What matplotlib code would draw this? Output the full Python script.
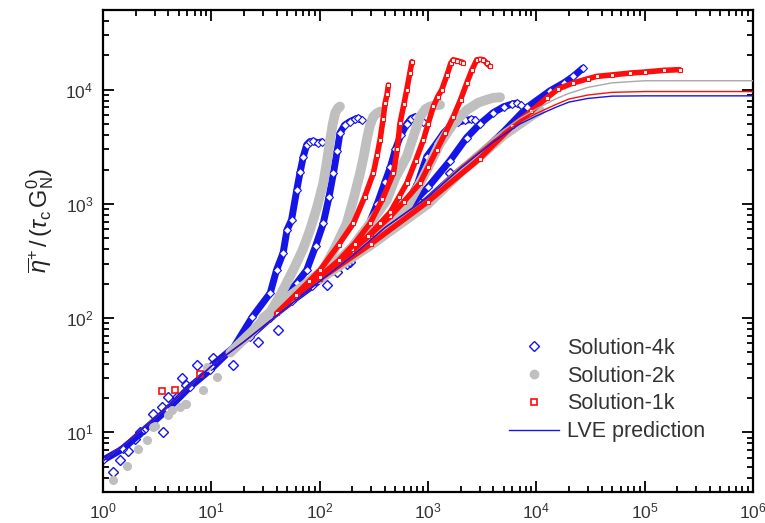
import numpy as np
import matplotlib
matplotlib.use("Agg")
import matplotlib.pyplot as plt
from matplotlib.lines import Line2D

plt.rcParams['font.family'] = ['Liberation Sans', 'DejaVu Sans']
plt.rcParams['mathtext.fontset'] = 'custom'
plt.rcParams['mathtext.rm'] = 'Liberation Sans'
plt.rcParams['mathtext.it'] = 'Liberation Sans:italic'

# ---- data (t / tau_c , eta+ / (tau_c G_N^0)) ----
# LVE predictions
t_lve = [1, 2, 4, 10, 20, 40, 100, 200, 400, 1000, 2000, 4000, 7000, 10000, 15000,
         20000, 30000, 50000, 100000, 1000000]
eta_lve_4k = [5.6, 9.5, 17, 38, 62, 105, 210, 350, 620, 1150, 2050, 3500, 5000, 5900,
              7000, 7800, 8400, 8800, 8850, 8850]
eta_lve_1k = [5.6, 9.5, 17, 38, 62, 105, 210, 350, 620, 1150, 2100, 3600, 5200, 6200,
              7400, 8300, 9000, 9500, 9650, 9650]
eta_lve_2k = [5.6, 9.5, 17, 38, 62, 105, 210, 350, 620, 1150, 2150, 3800, 5600, 6800,
              8300, 9300, 10500, 11500, 12000, 12000]

# Solution-4k (blue diamonds), one array pair per rate
t_b1 = [10, 16, 24, 35, 40, 46, 50, 55, 61.5, 66, 70.7, 76, 81.5, 87, 97, 104.5]
eta_b1 = [38, 55, 103, 166, 264, 372, 592, 724, 1327, 1900, 2600, 3300, 3520, 3550, 3410, 3500]
t_b2 = [20, 35, 50, 62, 76, 92, 108, 122, 134, 145, 154, 170, 191, 210, 228, 245]
eta_b2 = [65, 110, 160, 205, 264, 430, 677, 1150, 1860, 2900, 4170, 4900, 5270, 5500, 5650, 5400]
t_b3 = [60, 100, 160, 220, 280, 340, 400, 450, 500, 560, 637, 700, 760, 830, 901]
eta_b3 = [160, 230, 320, 440, 640, 1000, 1550, 2100, 3000, 4000, 5000, 5600, 5800, 5600, 5200]
t_b4 = [100, 300, 600, 800, 975, 1200, 1400, 1600, 1900, 2200, 2500, 2700]
eta_b4 = [220, 470, 900, 1500, 2600, 3400, 4200, 4770, 5200, 5400, 5500, 5460]
t_b5 = [100, 300, 600, 1000, 1600, 2270, 3000, 4000, 5000, 6000, 6600, 7200]
eta_b5 = [220, 480, 850, 1400, 2400, 3800, 5000, 6300, 7100, 7500, 7640, 7300]
t_b6 = [100, 300, 1000, 2000, 3000, 5000, 8200, 13400, 18000, 22000, 27000]
eta_b6 = [220, 440, 1100, 2000, 2700, 4300, 7000, 9800, 11500, 13100, 15500]
t_b7 = [1.0, 1.54, 2.4, 3.87, 6.35, 9.7, 14.9, 22.7, 35, 55, 85, 130]
eta_b7 = [5.7, 7.2, 10.5, 15.6, 25, 35, 52, 69, 100, 140, 190, 260]
t_b_low = [1.24, 1.44, 1.71, 1.97, 2.2, 2.91, 3.47, 3.6, 3.98, 4.0, 4.8, 5.33, 5.9,
           7.36, 10.4, 15.9, 27, 41.6, 116, 144, 178, 191, 272, 385, 416, 515, 552,
           845, 1600]
eta_b_low = [4.5, 5.7, 6.9, 8.8, 10.1, 14.5, 16.6, 10.1, 20.4, 16.1, 20.4, 29.7, 25.8,
             38.7, 44.6, 38.8, 62, 78.5, 195, 255, 300, 310, 435, 592, 592, 850, 775,
             1015, 1860]

# Solution-2k (grey circles)
t_g1 = [15, 25, 35, 45, 57, 70, 81.5, 95, 108, 117, 125, 132, 139, 147, 154]
eta_g1 = [50, 80, 112, 170, 264, 400, 592, 950, 1520, 2400, 3640, 5000, 6250, 6900, 7140]
t_g2 = [30, 50, 75, 108, 140, 178, 210, 236, 255, 272, 290, 313, 335, 361]
eta_g2 = [100, 150, 200, 264, 420, 677, 1200, 1860, 2600, 3640, 4800, 5830, 6200, 6450]
t_g3 = [100, 200, 300, 416, 500, 637, 740, 845, 950, 1045, 1150, 1293]
eta_g3 = [220, 420, 700, 1080, 1700, 2600, 4000, 5830, 6800, 7140, 7300, 7380]
t_g4 = [100, 300, 600, 900, 1293, 1700, 2280, 2900, 3470, 4000, 4630]
eta_g4 = [220, 450, 850, 1700, 3400, 5000, 6640, 7700, 8170, 8500, 8600]
t_g5 = [100, 300, 1000, 2000, 3000, 5000, 7000, 9000, 10800]
eta_g5 = [220, 440, 1000, 1900, 2600, 4000, 5000, 5900, 6600]
t_g_low = [1.24, 1.65, 2.12, 2.53, 2.91, 3.02, 4.0, 4.3, 5.1, 5.7, 5.9, 8.4, 9.1, 11.2]
eta_g_low = [3.8, 5.1, 7.1, 8.5, 11.1, 11.3, 14.1, 15.6, 16.6, 17.8, 17.8, 23.3, 37.3, 30.5]

# Solution-1k (red squares)
t_r1 = [40, 60, 80, 101, 150, 205, 260, 313, 340, 361, 385, 402, 420, 431]
eta_r1 = [110, 160, 210, 264, 440, 677, 1150, 1860, 2700, 3640, 5500, 7640, 9200, 11000]
t_r2 = [60, 100, 150, 210, 292, 380, 480, 520, 552, 600, 637, 680, 710]
eta_r2 = [160, 230, 320, 450, 677, 1100, 1860, 3000, 5100, 7500, 10000, 14000, 17600]
t_r3 = [100, 200, 280, 361, 450, 540, 637, 770, 907, 1000, 1122, 1230, 1340, 1500,
        1620, 1706, 1850, 2000, 2110]
eta_r3 = [220, 400, 520, 677, 850, 1150, 1520, 2400, 3640, 5000, 7140, 8700, 10000,
          13500, 17000, 18300, 18000, 17600, 17300]
t_r4 = [100, 200, 300, 450, 600, 845, 1000, 1206, 1450, 1717, 2000, 2280, 2550, 2822,
        3050, 3250, 3500, 3744]
eta_r4 = [220, 390, 550, 780, 1050, 1520, 2100, 2980, 4200, 5830, 8200, 11450, 15000,
          18300, 18500, 18300, 17000, 16000]
t_r5 = [100, 300, 1000, 3000, 6000, 9000, 12500, 16000, 22000, 30000, 36000, 50000,
        73000, 100000, 150000, 210000]
eta_r5 = [220, 450, 1050, 2500, 4800, 6500, 8500, 10200, 11500, 12500, 13100, 13500,
          14000, 14300, 14800, 15000]
t_r_low = [3.48, 4.6, 7.9]
eta_r_low = [22.9, 23.3, 32.2]

blue = '#1515e6'
grey = '#bfbfbf'
red = '#ff0d0d'

fig = plt.figure(figsize=(7.65, 5.23), dpi=100)
ax = fig.add_axes([0.1346, 0.0593, 0.8497, 0.9216])

# blue trails
for t, e in [(t_b7, eta_b7), (t_b6, eta_b6), (t_b5, eta_b5), (t_b4, eta_b4),
             (t_b3, eta_b3), (t_b2, eta_b2), (t_b1, eta_b1)]:
    ax.plot(t, e, color=blue, lw=5, solid_capstyle='round', zorder=2)
    ax.plot(t, e, ls='none', marker='D', ms=4, mfc='white', mec=blue, mew=0.8, zorder=2)
ax.plot(t_b_low, eta_b_low, ls='none', marker='D', ms=5.5, mfc='none', mec=blue, mew=1, zorder=2)

# grey trails
for t, e in [(t_g5, eta_g5), (t_g4, eta_g4), (t_g3, eta_g3), (t_g2, eta_g2), (t_g1, eta_g1)]:
    ax.plot(t, e, color=grey, lw=7, solid_capstyle='round', zorder=3)
ax.plot(t_g_low, eta_g_low, ls='none', marker='o', ms=5.5, color=grey, zorder=3)

# red trails
for t, e in [(t_r5, eta_r5), (t_r4, eta_r4), (t_r3, eta_r3), (t_r2, eta_r2), (t_r1, eta_r1)]:
    ax.plot(t, e, color=red, lw=4, solid_capstyle='round', zorder=4)
    ax.plot(t, e, ls='none', marker='s', ms=3.5, mfc='white', mec=red, mew=0.8, zorder=4)
ax.plot(t_r_low, eta_r_low, ls='none', marker='s', ms=4.5, mfc='none', mec=red, mew=1.2, zorder=4)

# LVE lines
ax.plot(t_lve, eta_lve_2k, color='#a8a8a8', lw=1, zorder=5)
ax.plot(t_lve, eta_lve_1k, color=red, lw=1, zorder=5)
ax.plot(t_lve, eta_lve_4k, color=blue, lw=1, zorder=5)

ax.set_xscale('log')
ax.set_yscale('log')
ax.set_xlim(1, 1e6)
ax.set_ylim(3, 5e4)

for s in ax.spines.values():
    s.set_linewidth(1.6)
ax.tick_params(which='both', direction='in', top=True, right=True, width=1.3,
               labelsize=12.5, labelcolor='#333333')
ax.tick_params(which='major', length=8, pad=7)
ax.tick_params(which='minor', length=4)
ax.xaxis.set_major_locator(matplotlib.ticker.LogLocator(base=10, numticks=10))
ax.xaxis.set_minor_locator(matplotlib.ticker.LogLocator(base=10, subs=np.arange(2, 10), numticks=20))
ax.yaxis.set_minor_locator(matplotlib.ticker.LogLocator(base=10, subs=np.arange(2, 10), numticks=20))

fig.text(40 / 765, 1 - 220 / 523,
         r'$\overline{\eta}^{+}\,/\,(\tau_{\rm c}\,{\rm G}_{\rm N}^{0})$',
         rotation=90, ha='center', va='center', fontsize=17, color='#222222')

handles = [
    Line2D([], [], ls='none', marker='D', ms=5.5, mfc='none', mec=blue, mew=1),
    Line2D([], [], ls='none', marker='o', ms=6, color=grey),
    Line2D([], [], ls='none', marker='s', ms=4.5, mfc='none', mec=red, mew=1.2),
    Line2D([], [], color=blue, lw=1),
]
labels = ['Solution-4k', 'Solution-2k', 'Solution-1k', 'LVE prediction']
leg = ax.legend(handles, labels, loc='upper left', bbox_to_anchor=(0.612, 0.338),
                frameon=False, fontsize=15.5, handlelength=2.3, handletextpad=0.37,
                labelspacing=0.32, borderaxespad=0)
for txt in leg.get_texts():
    txt.set_color('#333333')

fig.savefig('out.png', dpi=100)
